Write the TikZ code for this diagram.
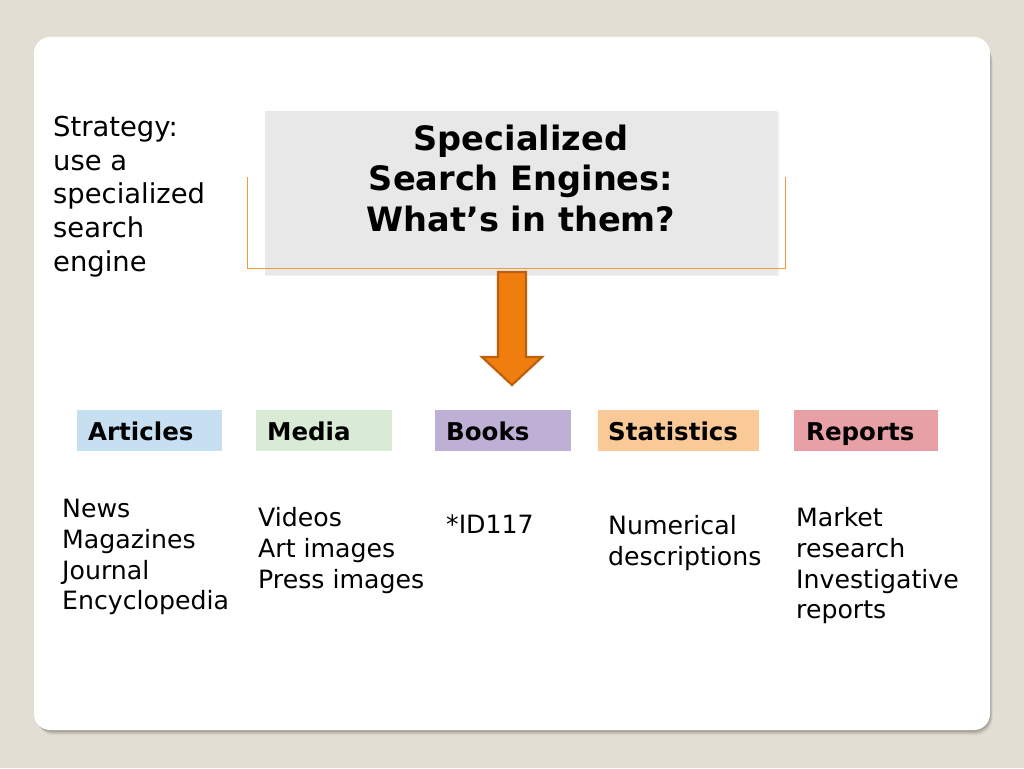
\documentclass[tikz,border=0pt]{standalone}
\usepackage{fontspec}
\setmainfont{DejaVu Sans}
\definecolor{bgc}{HTML}{E2DED3}
\definecolor{titlegray}{HTML}{E8E8E8}
\definecolor{bracketor}{HTML}{F29A38}
\definecolor{arrowfill}{HTML}{EF7E0E}
\definecolor{arrowline}{HTML}{BF5F0C}
\definecolor{cblue}{HTML}{C6E0F2}
\definecolor{cgreen}{HTML}{DAEBD5}
\definecolor{cpurple}{HTML}{BEB0D4}
\definecolor{cpeach}{HTML}{F9C998}
\definecolor{cpink}{HTML}{E6A0A6}
\newcommand{\fls}{\rule{0pt}{0.8em}}
\begin{document}
\begin{tikzpicture}[x=1pt,y=-1pt,
  bodytext/.style={inner sep=0pt, anchor=north west, align=left, text=black},
  listtext/.style={bodytext, font=\fontsize{25.2}{30.9}\selectfont},
  cattext/.style={inner sep=0pt, anchor=base west, font=\bfseries\fontsize{24.5}{29}\selectfont},
]
\useasboundingbox (0,0) rectangle (1024,768);
\fill[bgc] (0,0) rectangle (1024,768);
% card shadow
\foreach \o/\op in {9/0.04,7/0.06,5/0.08,3/0.11}{
  \fill[black,opacity=\op,rounded corners=17] (34+0.4*\o,37+\o) rectangle (990+0.3*\o,730+0.6*\o);
}
\fill[white,rounded corners=16] (34,37) rectangle (990,730);

% strategy text
\node[bodytext, font=\fontsize{27.4}{33.8}\selectfont] (strategy) at (53,114.1)
  {\fls Strategy:\\use a\\specialized\\search\\engine};

% title box
\fill[black,opacity=0.06] (266,112) rectangle (779,276);
\node[fill=titlegray, minimum width=512, minimum height=164, inner sep=0pt, anchor=north west] (titlebox) at (265,111) {};
\coordinate (bl) at (247.5,177);
\coordinate (br) at (785.5,177);
\draw[bracketor, line width=1.5pt] (bl) |- (785.5,268.5) -- (br);
\node[font=\bfseries\fontsize{33.6}{40.5}\selectfont, align=center, inner sep=0pt, anchor=north] (title) at (521,150-26.9)
  {\fls Specialized\\Search Engines:\\What’s in them?};

% arrow
\draw[arrowline, fill=arrowfill, line width=2.2pt, line join=miter]
  (498,272) -- (526,272) -- (526,357) -- (542,357) -- (512,385) -- (482,357) -- (498,357) -- cycle;

% category boxes
\fill[cblue]   (77,410) rectangle (222,451);
\fill[cgreen]  (256,410) rectangle (392,451);
\fill[cpurple] (435,410) rectangle (571,451);
\fill[cpeach]  (598,410) rectangle (759,451);
\fill[cpink]   (794,410) rectangle (938,451);
\node[cattext] (articles) at (88,440) {Articles};
\node[cattext] (media) at (267,440) {Media};
\node[cattext] (books) at (446,440) {Books};
\node[cattext] (stats) at (608,440) {Statistics};
\node[cattext] (reports) at (806,440) {Reports};

% lists
\node[listtext] (l1) at (62,517-20.16) {\fls News\\Magazines\\Journal\\Encyclopedia};
\node[listtext] (l2) at (258,526-20.16) {\fls Videos\\Art images\\Press images};
\node[listtext] (l3) at (446,533-20.16) {\fls *ID117};
\node[listtext] (l4) at (608,534-20.16) {\fls Numerical\\descriptions};
\node[listtext] (l5) at (796,526-20.16) {\fls Market\\research\\Investigative\\reports};
\end{tikzpicture}
\end{document}
